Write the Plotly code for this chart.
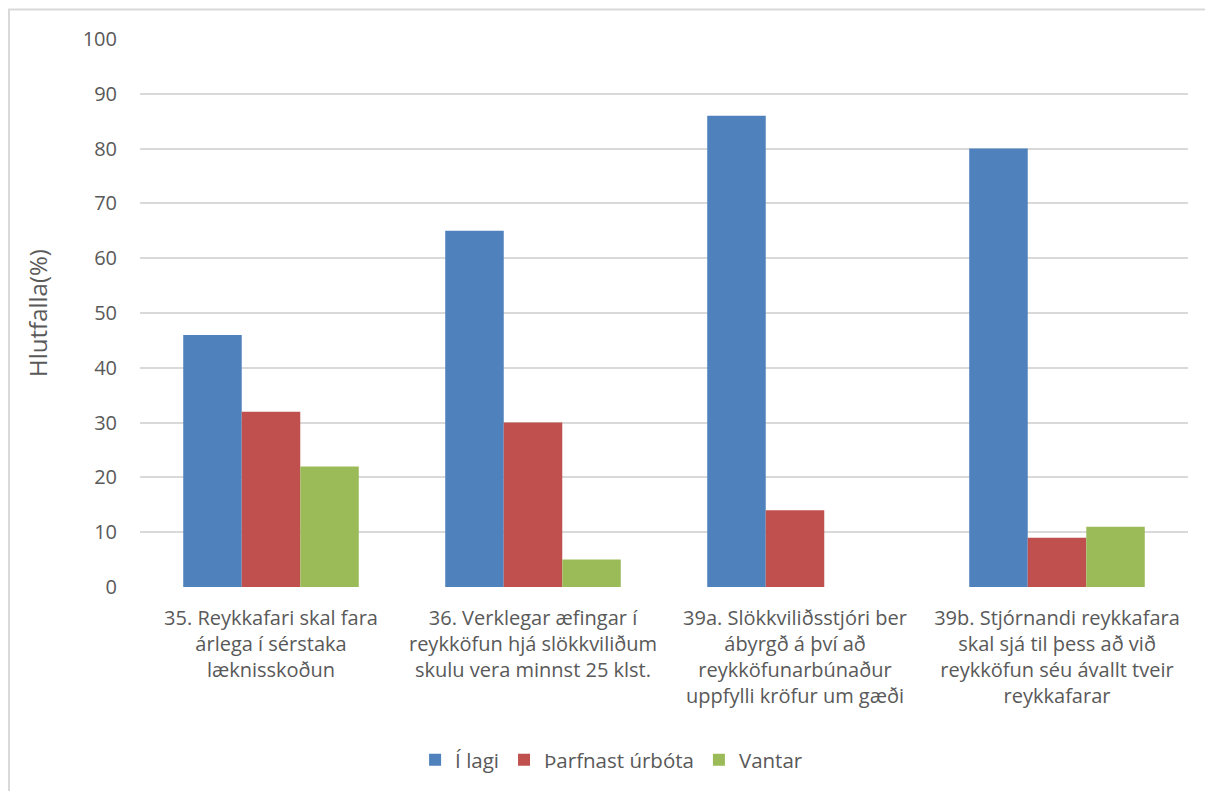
import plotly.graph_objects as go

categories = [
    "35. Reykkafari skal fara<br>árlega í sérstaka<br>læknisskoðun",
    "36. Verklegar æfingar í<br>reykköfun hjá slökkviliðum<br>skulu vera minnst 25 klst.",
    "39a. Slökkviliðsstjóri ber<br>ábyrgð á því að<br>reykköfunarbúnaður<br>uppfylli kröfur um gæði",
    "39b. Stjórnandi reykkafara<br>skal sjá til þess að við<br>reykköfun séu ávallt tveir<br>reykkafarar",
]
i_lagi = [46, 65, 86, 80]
tharfnast = [32, 30, 14, 9]
vantar = [22, 5, 0, 11]

series = [
    ("Í lagi", i_lagi, "#4f81bd"),
    ("Þarfnast úrbóta", tharfnast, "#c0504d"),
    ("Vantar", vantar, "#9bbb59"),
]

fig = go.Figure()
for name, vals, col in series:
    fig.add_trace(go.Bar(x=categories, y=vals, name=name, marker_color=col,
                         marker_line=dict(width=0)))

fig.update_layout(
    barmode="group",
    bargap=0.33,
    bargroupgap=0,
    width=1205, height=783,
    plot_bgcolor="white",
    paper_bgcolor="white",
    font=dict(family="Open Sans, sans-serif", size=19, color="#595959"),
    margin=dict(l=132, r=25, t=31, b=203),
    showlegend=True,
    legend=dict(orientation="h", x=0.45, xanchor="center", y=-0.313, yanchor="middle",
                font=dict(size=20.5, color="#595959"), itemwidth=30),
    shapes=[dict(type="rect", xref="paper", yref="paper",
                 x0=-0.1250, x1=1.05, y0=-0.6, y1=1.054,
                 line=dict(color="#d9d9d9", width=2), fillcolor="rgba(0,0,0,0)", layer="below")],
)
fig.update_xaxes(showline=False, ticks="", tickfont=dict(size=20, color="#595959"),
                 ticklabelstandoff=17)
fig.update_yaxes(range=[0, 100], dtick=10, showgrid=True, gridcolor="#d9d9d9", gridwidth=1.5,
                 zeroline=False, showline=False, ticks="",
                 tickfont=dict(size=20, color="#595959"), ticklabelstandoff=22,
                 title=dict(text="Hlutfalla(%)", font=dict(size=24, color="#595959"), standoff=28))

fig.write_html("out.html")
